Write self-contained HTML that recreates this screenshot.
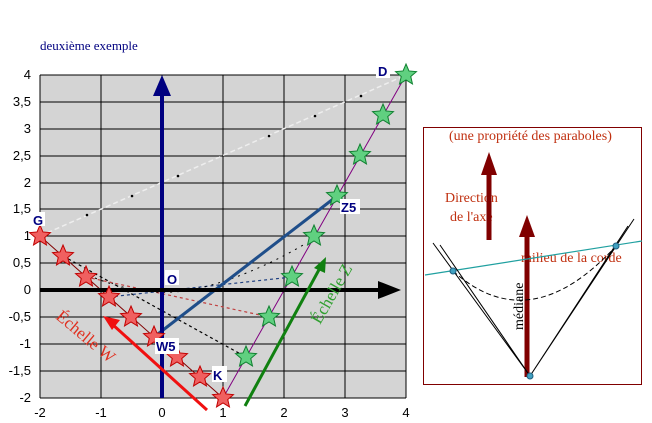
<!DOCTYPE html>
<html><head><meta charset="utf-8"><style>body{margin:0;background:#fff}svg{display:block}</style></head><body>
<svg width="652" height="423" viewBox="0 0 652 423" xmlns="http://www.w3.org/2000/svg" font-family="Liberation Sans, sans-serif">
<defs>
<polygon id="st" points="0,-11 2.94,-4.05 10.46,-3.4 4.76,1.55 6.47,8.9 0,5 -6.47,8.9 -4.76,1.55 -10.46,-3.4 -2.94,-4.05"/>
</defs>
<text x="40" y="50" font-family="Liberation Serif, serif" font-size="13" fill="#000080">deuxième exemple</text>
<rect x="40" y="75" width="366" height="323" fill="#d4d4d4"/>
<g stroke="#000" stroke-width="1">
<path d="M40,75V398M101,75V398M162,75V398M223,75V398M284,75V398M345,75V398M406,75V398"/>
<path d="M40,75H406M40,102H406M40,129H406M40,156H406M40,183H406M40,209H406M40,236H406M40,263H406M40,317H406M40,344H406M40,371H406M40,398H406"/>
</g>
<g font-size="13" fill="#000" text-anchor="end">
<text x="31" y="79">4</text><text x="31" y="106">3,5</text><text x="31" y="133">3</text><text x="31" y="160">2,5</text><text x="31" y="187">2</text><text x="31" y="213">1,5</text><text x="31" y="240">1</text><text x="31" y="267">0,5</text><text x="31" y="294">0</text><text x="31" y="321">-0,5</text><text x="31" y="348">-1</text><text x="31" y="375">-1,5</text><text x="31" y="402">-2</text>
</g>
<g font-size="13" fill="#000" text-anchor="middle">
<text x="40" y="417">-2</text><text x="101" y="417">-1</text><text x="162" y="417">0</text><text x="223" y="417">1</text><text x="284" y="417">2</text><text x="345" y="417">3</text><text x="406" y="417">4</text>
</g>
<line x1="40" y1="236" x2="406" y2="75" stroke="#eee" stroke-width="1.5" stroke-dasharray="5,3"/>
<g fill="#000"><circle cx="87" cy="215" r="1.3"/><circle cx="132" cy="196" r="1.3"/><circle cx="178" cy="176" r="1.3"/><circle cx="269" cy="136" r="1.3"/><circle cx="315" cy="116" r="1.3"/><circle cx="361" cy="96" r="1.3"/></g>
<line x1="223" y1="398" x2="406" y2="75" stroke="#800080" stroke-width="1"/>
<line x1="40" y1="236" x2="223" y2="398" stroke="#800000" stroke-width="1"/>
<line x1="63" y1="256" x2="246" y2="357" stroke="#000" stroke-width="1.2" stroke-dasharray="3,3"/>
<line x1="86" y1="277" x2="269" y2="317" stroke="#c04040" stroke-width="1.2" stroke-dasharray="3,3"/>
<line x1="109" y1="297" x2="292" y2="277" stroke="#204080" stroke-width="1.2" stroke-dasharray="3,3"/>
<path d="M95,278 Q150,300 200,288 T305,244" fill="none" stroke="#000" stroke-width="1" stroke-dasharray="2,5"/>
<line x1="154" y1="337" x2="337" y2="196" stroke="#1f4e8a" stroke-width="3"/>
<line x1="162" y1="398" x2="162" y2="96" stroke="#000080" stroke-width="4"/>
<polygon points="162,75 153,96 171,96" fill="#000080"/>
<line x1="40" y1="290" x2="380" y2="290" stroke="#000" stroke-width="4"/>
<polygon points="401,290 378,281 378,299" fill="#000"/>
<g fill="#f06060" stroke="#c00000" stroke-width="1">
<use href="#st" x="40" y="236"/><use href="#st" x="63" y="256"/><use href="#st" x="86" y="277"/><use href="#st" x="109" y="297"/><use href="#st" x="131" y="317"/><use href="#st" x="154" y="337"/><use href="#st" x="177" y="357"/><use href="#st" x="200" y="377"/><use href="#st" x="223" y="398"/>
</g>
<g fill="#60d080" stroke="#108030" stroke-width="1">
<use href="#st" x="246" y="357"/><use href="#st" x="269" y="317"/><use href="#st" x="292" y="277"/><use href="#st" x="314" y="236"/><use href="#st" x="337" y="196"/><use href="#st" x="360" y="155"/><use href="#st" x="383" y="115"/><use href="#st" x="406" y="75"/>
</g>
<line x1="207" y1="410" x2="112" y2="324" stroke="#f01010" stroke-width="3"/>
<polygon points="103,316 120,320 112,330" fill="#f01010"/>
<line x1="245" y1="406" x2="321" y2="266" stroke="#108010" stroke-width="3"/>
<polygon points="326,257 325,273 314,268" fill="#108010"/>
<text transform="translate(55,318) rotate(40)" font-family="Liberation Serif, serif" font-size="17" fill="#e03020">Échelle W</text>
<text transform="translate(320,325) rotate(-60)" font-family="Liberation Serif, serif" font-size="17" fill="#30a030">Échelle Z</text>
<g font-size="13" font-weight="bold" fill="#000080">
<rect x="31" y="212" width="14" height="14" fill="#fff"/><text x="33" y="225">G</text>
<rect x="376" y="63" width="14" height="15" fill="#fff"/><text x="378" y="76">D</text>
<rect x="165" y="270" width="14" height="15" fill="#fff"/><text x="167" y="284">O</text>
<rect x="340" y="199" width="20" height="15" fill="#fff"/><text x="341" y="212">Z5</text>
<rect x="155" y="338" width="24" height="16" fill="#fff"/><text x="156" y="351">W5</text>
<rect x="212" y="366" width="15" height="16" fill="#fff"/><text x="213" y="380">K</text>
</g>
<rect x="423.5" y="127.5" width="218" height="257" fill="#fff" stroke="#800000" stroke-width="1"/>
<g font-family="Liberation Serif, serif" font-size="14" fill="#c03010">
<text x="449" y="140">(une propriété des paraboles)</text>
<text x="445" y="202">Direction</text><text x="450" y="221">de l'axe</text>
<text x="521" y="262">milieu de la corde</text>
</g>
<line x1="489" y1="240" x2="489" y2="172" stroke="#800000" stroke-width="5"/>
<polygon points="489,152 481,175 497,175" fill="#800000"/>
<line x1="527" y1="377" x2="527" y2="235" stroke="#800000" stroke-width="5"/>
<polygon points="527,215 519,237 535,237" fill="#800000"/>
<line x1="425" y1="275" x2="642" y2="241" stroke="#20a0a0" stroke-width="1.2"/>
<path d="M433,243 L530,376 L634,219 M440,245 L530,376 L628,226" fill="none" stroke="#000" stroke-width="1"/>
<path d="M453,271 Q530,340 616,246" fill="none" stroke="#000" stroke-width="1" stroke-dasharray="5,3"/>
<text transform="translate(523,330) rotate(-90)" font-family="Liberation Serif, serif" font-size="14" fill="#000">médiane</text>
<g fill="#40a0c0" stroke="#206080"><circle cx="453" cy="271" r="3"/><circle cx="616" cy="246" r="3"/><circle cx="530" cy="376" r="3"/></g>
</svg>
</body></html>
